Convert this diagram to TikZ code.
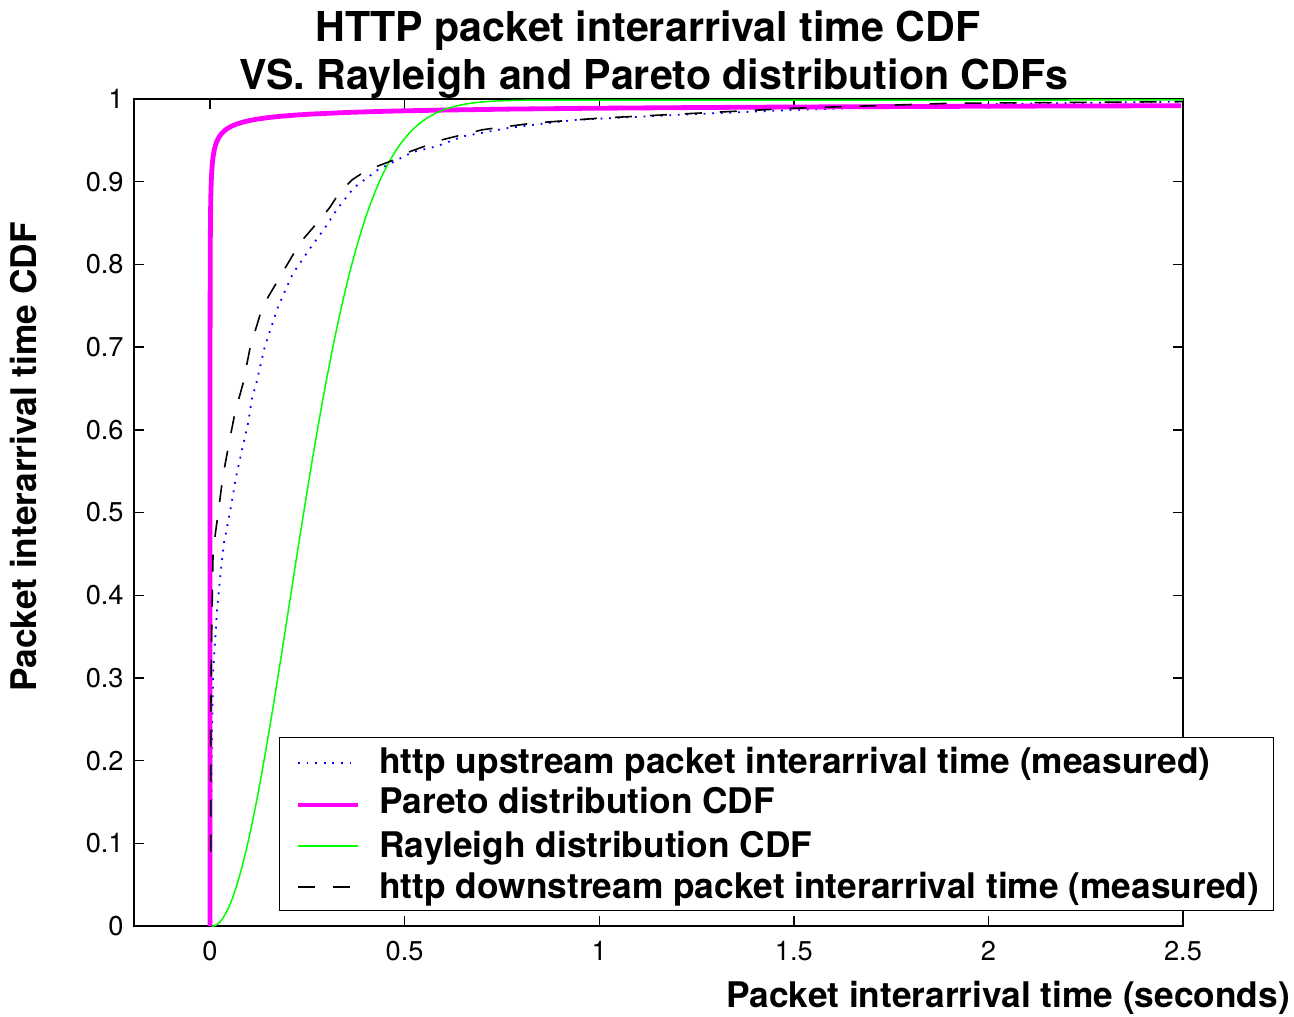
\documentclass[tikz,border=0pt]{standalone}
\usepackage{fontspec}
\setmainfont{TeX Gyre Heros}
\definecolor{plotmagenta}{RGB}{255,0,255}
\definecolor{plotgreen}{RGB}{0,255,0}
\definecolor{plotblue}{RGB}{0,0,255}
\begin{document}
\begin{tikzpicture}[x=0.5pt,y=-0.5pt,
  ticklab/.style={font=\fontsize{13.6}{15}\selectfont, inner sep=0pt},
  boldlab/.style={font=\fontsize{17.65}{20}\selectfont\bfseries, inner sep=0pt},
  titlelab/.style={font=\fontsize{20.6}{24}\selectfont\bfseries, inner sep=0pt},
  axisline/.style={line width=0.7pt, black},
  upcurve/.style={plotblue, line width=0.9pt, dash pattern=on 0.9pt off 3.4pt},
  paretocurve/.style={plotmagenta, line width=2.4pt},
  rayleighcurve/.style={plotgreen, line width=0.75pt},
  downcurve/.style={black, line width=0.8pt, dash pattern=on 8.5pt off 9pt},
  legendbox/.style={draw=black, fill=white, line width=0.6pt},
]
\useasboundingbox[fill=white] (0,0) rectangle (1294,1016);

% titles
\node[titlelab, anchor=base] (title1) at (648,42) {HTTP packet interarrival time CDF};
\node[titlelab, anchor=base] (title2) at (654,90) {VS. Rayleigh and Pareto distribution CDFs};

% axes frame
\draw[axisline] (134,99) rectangle (1183,926);

% y ticks and labels
\foreach \i/\lab in {0/0,1/0.1,2/0.2,3/0.3,4/0.4,5/0.5,6/0.6,7/0.7,8/0.8,9/0.9,10/1} {
  \pgfmathsetmacro{\yy}{926-82.7*\i}
  \draw[axisline] (134,\yy) -- (144,\yy);
  \draw[axisline] (1183,\yy) -- (1173,\yy);
  \node[ticklab, anchor=east] (yt\i) at (124,\yy) {\lab};
}
% x ticks and labels
\foreach \i/\lab in {0/0,1/0.5,2/1,3/1.5,4/2,5/2.5} {
  \pgfmathsetmacro{\xx}{210+194.6*\i}
  \draw[axisline] (\xx,926) -- (\xx,916);
  \draw[axisline] (\xx,99) -- (\xx,109);
  \node[ticklab, anchor=base] (xt\i) at (\xx,960) {\lab};
}

% axis labels
\node[boldlab, anchor=base] (xlabel) at (1008,1007) {Packet interarrival time (seconds)};
\node[boldlab, anchor=base, rotate=90] (ylabel) at (36,457) {Packet interarrival time CDF};

% data curves
\begin{scope}[shift={(105pt,-463pt)}, x=194.6pt, y=413pt]
  % upstream measurement
  \draw[upcurve] plot coordinates {
    (0.003,0.10) (0.004,0.20) (0.008,0.306) (0.018,0.383) (0.028,0.431)
    (0.036,0.464) (0.051,0.50) (0.067,0.544) (0.082,0.576) (0.098,0.609)
    (0.108,0.639) (0.118,0.655) (0.14,0.70) (0.175,0.75) (0.213,0.79)
    (0.252,0.817) (0.295,0.845) (0.33,0.87) (0.37,0.894) (0.43,0.915)
    (0.521,0.937) (0.583,0.944) (0.65,0.956) (0.765,0.966) (0.865,0.972)
    (0.942,0.976) (1.2,0.982) (1.5,0.988) (2.0,0.995) (2.5,0.998)};
  % Pareto model
  \draw[paretocurve] (0,0) -- plot[domain=-11.51:0.9163, samples=160, variable=\u]
    ({exp(\u)}, {1-exp(0.4*(-11.5129-\u))});
  % Rayleigh model
  \draw[rayleighcurve] plot[domain=0.005:0.9, samples=220]
    (\x, {1-exp(-(\x-0.005)*(\x-0.005)/0.08)}) -- (2.5,1);
  % downstream measurement
  \draw[downcurve] plot coordinates {
    (0.002,0.09) (0.002,0.25) (0.004,0.35) (0.008,0.455) (0.021,0.50)
    (0.033,0.544) (0.049,0.585) (0.064,0.621) (0.085,0.657) (0.103,0.70)
    (0.135,0.75) (0.185,0.79) (0.231,0.827) (0.275,0.851) (0.308,0.870)
    (0.334,0.889) (0.367,0.904) (0.403,0.915) (0.47,0.927) (0.505,0.936)
    (0.598,0.952) (0.70,0.964) (0.83,0.972) (1.0,0.978) (1.25,0.984)
    (1.5,0.990) (1.9,0.996) (2.5,0.998)};
\end{scope}

% legend
\node[legendbox, anchor=north west, minimum width=497pt, minimum height=86.5pt, inner sep=0pt] (legend) at (279,737) {};
\draw[upcurve] (298,763) -- (358,763);
\draw[paretocurve] (298,805) -- (358,805);
\draw[rayleighcurve] (298,846) -- (358,846);
\draw[downcurve] (298,887) -- (358,887);
\node[boldlab, anchor=base west] (leg1) at (379,773) {http upstream packet interarrival time (measured)};
\node[boldlab, anchor=base west] (leg2) at (379,813) {Pareto distribution CDF};
\node[boldlab, anchor=base west] (leg3) at (379,857) {Rayleigh distribution CDF};
\node[boldlab, anchor=base west] (leg4) at (379,898) {http downstream packet interarrival time (measured)};
\end{tikzpicture}
\end{document}
